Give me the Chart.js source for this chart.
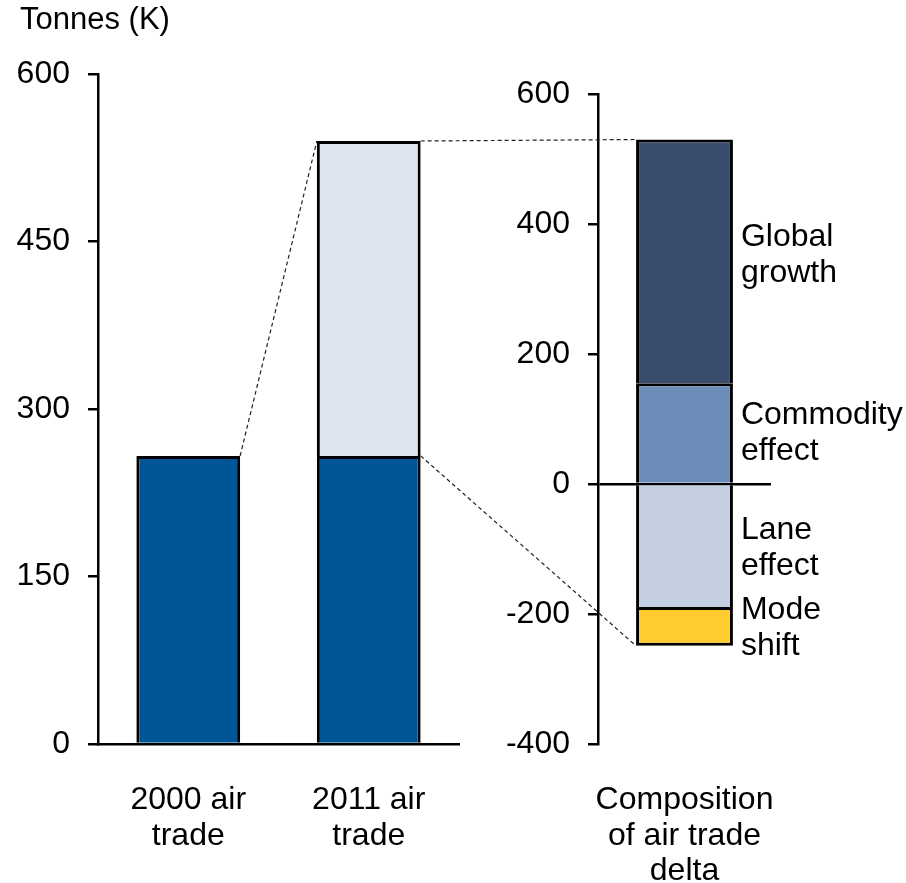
<!DOCTYPE html>
<html>
<head>
<meta charset="utf-8">
<script src="https://cdn.jsdelivr.net/npm/chart.js@4"></script>
<style>
  html, body { margin: 0; padding: 0; background: #fff; }
  #wrap { position: relative; width: 906px; height: 883px; }
  #left { position: absolute; left: 0; top: 0; }
  #right { position: absolute; left: 470px; top: 0; }
  #links { position: absolute; left: 0; top: 0; pointer-events: none; }
</style>
</head>
<body>
<div id="wrap">
  <canvas id="left" width="470" height="883"></canvas>
  <canvas id="right" width="436" height="883"></canvas>
  <canvas id="links" width="906" height="883"></canvas>
</div>
<script>
// air trade volumes, thousand tonnes
const tradeLabels = [['2000 air', 'trade'], ['2011 air', 'trade']];
const baseTonnes = [258, 258];
const growthTonnes = [null, 282];
const tonneTicks = [0, 150, 300, 450, 600];

// breakdown of the 2000 -> 2011 change
const deltaLabels = [['Composition', 'of air trade', 'delta']];
const segmentNames = [['Commodity', 'effect'], ['Global', 'growth'], ['Lane', 'effect'], ['Mode', 'shift']];
const segmentValues = [155, 375, -194, -55];
const deltaTicks = [-400, -200, 0, 200, 400, 600];

const segmentColors = ['#6d8db9', '#3a4d6d', '#c3cfe1', '#ffcb2f'];
const FONT = 'Liberation Sans, Arial, sans-serif';
const RIGHT_OFFSET = 470;
const LINE_W = 2.5;

Chart.defaults.font.family = FONT;
Chart.defaults.font.size = 32;
Chart.defaults.font.lineHeight = 1.12;
Chart.defaults.color = '#000';

// the edge at the base is covered by the axis / the segment underneath
const barStyle = {
  borderColor: '#000',
  borderWidth: 3,
  borderSkipped: 'start',
  categoryPercentage: 1,
};

const unitTitle = {
  id: 'unitTitle',
  afterDraw(chart) {
    const ctx = chart.ctx;
    ctx.save();
    ctx.font = `31px ${FONT}`;
    ctx.fillStyle = '#000';
    ctx.textAlign = 'left';
    ctx.textBaseline = 'alphabetic';
    ctx.fillText('Tonnes (K)', 20, 29);
    ctx.restore();
  }
};

const segmentText = {
  id: 'segmentText',
  afterDatasetsDraw(chart) {
    const ctx = chart.ctx;
    ctx.save();
    ctx.font = `32px ${FONT}`;
    ctx.fillStyle = '#000';
    ctx.textAlign = 'left';
    ctx.textBaseline = 'middle';
    chart.data.datasets.forEach((ds, i) => {
      const el = chart.getDatasetMeta(i).data[0];
      // tall segments keep their caption a little above centre
      const mid = (el.y + el.base) / 2 - (Math.abs(el.base - el.y) > 200 ? 6 : 0);
      const lines = segmentNames[i];
      lines.forEach((t, k) => {
        ctx.fillText(t, el.x + el.width / 2 + 8, mid + (k - (lines.length - 1) / 2) * 36);
      });
    });
    ctx.restore();
  }
};

const leftChart = new Chart(document.getElementById('left'), {
  type: 'bar',
  data: {
    labels: tradeLabels,
    datasets: [
      { data: baseTonnes, backgroundColor: '#005596', ...barStyle, barPercentage: 0.575 },
      { data: growthTonnes, backgroundColor: '#dde4ee', ...barStyle, barPercentage: 0.575 },
    ]
  },
  options: {
    responsive: false,
    animation: false,
    layout: { padding: { top: 74, right: 11, left: 0, bottom: 0 } },
    plugins: { legend: { display: false }, tooltip: { enabled: false } },
    scales: {
      x: {
        stacked: true,
        grid: { display: false },
        border: { display: true, color: '#000', width: LINE_W },
        ticks: { padding: 30 },
        afterFit: s => { s.height = 139; }
      },
      y: {
        stacked: true,
        min: 0,
        max: 600,
        afterBuildTicks: s => { s.ticks = tonneTicks.map(v => ({ value: v })); },
        grid: { drawOnChartArea: false, drawTicks: true, tickLength: 10, color: '#000', lineWidth: LINE_W },
        border: { color: '#000', width: LINE_W },
        ticks: { padding: 18 },
        afterFit: s => { s.width = 98; }
      }
    }
  },
  plugins: [unitTitle]
});

const rightChart = new Chart(document.getElementById('right'), {
  type: 'bar',
  data: {
    labels: deltaLabels,
    datasets: segmentValues.map((v, i) => ({
      label: segmentNames[i].join(' '),
      data: [v],
      backgroundColor: segmentColors[i],
      ...barStyle,
      barPercentage: 0.56
    }))
  },
  options: {
    responsive: false,
    animation: false,
    layout: { padding: { top: 94, right: 135, left: 0, bottom: 0 } },
    plugins: { legend: { display: false }, tooltip: { enabled: false } },
    scales: {
      x: {
        stacked: true,
        grid: { display: false },
        border: { display: false },
        ticks: { padding: 30 },
        afterFit: s => { s.height = 139; }
      },
      y: {
        stacked: true,
        min: -400,
        max: 600,
        afterBuildTicks: s => { s.ticks = deltaTicks.map(v => ({ value: v })); },
        grid: {
          drawOnChartArea: true,
          drawTicks: true,
          tickLength: 10,
          color: c => (c.tick && c.tick.value === 0 ? '#000' : 'rgba(0,0,0,0)'),
          tickColor: '#000',
          lineWidth: LINE_W
        },
        border: { color: '#000', width: LINE_W },
        ticks: { padding: 18 },
        afterFit: s => { s.width = 128; }
      }
    }
  },
  plugins: [segmentText]
});

// dashed leader lines tying the 2011 bar to the breakdown
(function drawLinks() {
  const ctx = document.getElementById('links').getContext('2d');
  const base = leftChart.getDatasetMeta(0).data;
  const grow = leftChart.getDatasetMeta(1).data;
  const topSeg = rightChart.getDatasetMeta(1).data[0];
  const lowSeg = rightChart.getDatasetMeta(3).data[0];
  const bar2000 = base[0], base2011 = base[1], top2011 = grow[1];
  const segLeft = RIGHT_OFFSET + topSeg.x - topSeg.width / 2;

  const links = [
    [bar2000.x + bar2000.width / 2, bar2000.y, top2011.x - top2011.width / 2, top2011.y],
    [top2011.x + top2011.width / 2, top2011.y, segLeft, topSeg.y],
    [base2011.x + base2011.width / 2, base2011.y, segLeft, lowSeg.y],
  ];
  ctx.save();
  ctx.strokeStyle = '#222';
  ctx.lineWidth = 1.2;
  ctx.setLineDash([4, 3]);
  links.forEach(([x1, y1, x2, y2]) => {
    ctx.beginPath();
    ctx.moveTo(x1, y1);
    ctx.lineTo(x2, y2);
    ctx.stroke();
  });
  ctx.restore();
})();
</script>
</body>
</html>
